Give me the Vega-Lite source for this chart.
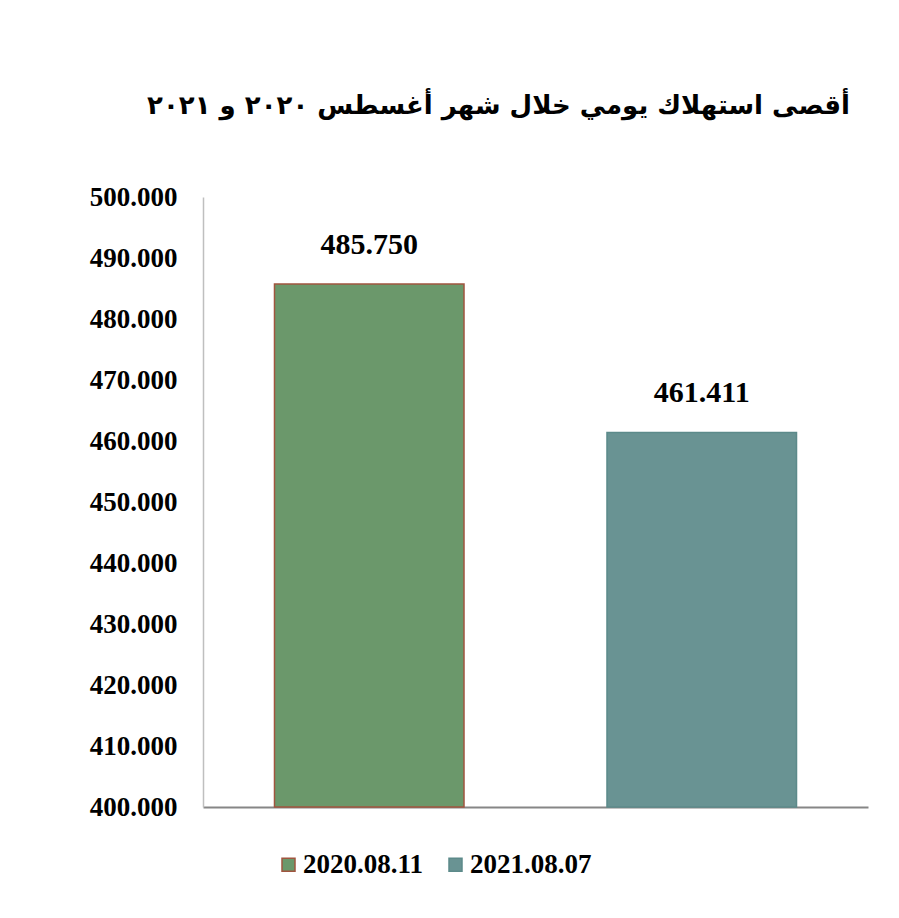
{
  "$schema": "https://vega.github.io/schema/vega-lite/v6.json",
  "autosize": {"type": "none"},
  "padding": {"left": 203, "top": 197, "right": 31, "bottom": 111},
  "width": 665,
  "height": 610,
  "background": "white",
  "title": {
    "text": "أقصى استهلاك يومي خلال شهر أغسطس ٢٠٢٠ و ٢٠٢١",
    "font": "DejaVu Sans",
    "fontSize": 26,
    "fontWeight": "bold",
    "color": "black",
    "anchor": "middle",
    "dx": -37,
    "offset": 64
  },
  "data": {
    "values": [
      {"date": "2020.08.11", "value": 485.75},
      {"date": "2021.08.07", "value": 461.411}
    ]
  },
  "layer": [
    {
      "mark": {"type": "bar", "strokeWidth": 1.5},
      "encoding": {
        "x": {
          "field": "date",
          "type": "nominal",
          "scale": {"paddingInner": 0.43, "paddingOuter": 0.215},
          "axis": {"labels": false, "ticks": false, "title": null, "domainColor": "#868686", "domainWidth": 2}
        },
        "y": {
          "field": "value",
          "type": "quantitative",
          "scale": {"domain": [400, 500], "zero": false, "nice": false},
          "axis": {
            "values": [400, 410, 420, 430, 440, 450, 460, 470, 480, 490, 500],
            "format": ".3f",
            "grid": false,
            "ticks": false,
            "title": null,
            "labelFont": "Liberation Serif",
            "labelFontSize": 27,
            "labelFontWeight": "bold",
            "labelColor": "black",
            "labelPadding": 26,
            "domainColor": "#bfbfbf",
            "domainWidth": 1.5
          }
        },
        "y2": {"datum": 400},
        "color": {
          "field": "date",
          "type": "nominal",
          "scale": {"domain": ["2020.08.11", "2021.08.07"], "range": ["#6b986b", "#699393"]},
          "legend": {
            "title": null,
            "orient": "none",
            "direction": "horizontal",
            "legendX": 72,
            "legendY": 654,
            "symbolType": "square",
            "symbolSize": 169,
            "labelFont": "Liberation Serif",
            "labelFontSize": 27,
            "labelFontWeight": "bold",
            "labelColor": "black",
            "labelOffset": 1,
            "columnPadding": 18,
            "labelLimit": 300,
            "encode": {
              "symbols": {
                "update": {
                  "stroke": {"scale": "stroke", "field": "value"},
                  "strokeWidth": {"value": 1.5}
                }
              }
            }
          }
        },
        "stroke": {
          "field": "date",
          "type": "nominal",
          "scale": {"domain": ["2020.08.11", "2021.08.07"], "range": ["#a0553f", "#5c8a8a"]},
          "legend": null
        }
      }
    },
    {
      "mark": {"type": "text", "font": "Liberation Serif", "fontSize": 30, "fontWeight": "bold", "color": "black", "baseline": "alphabetic", "dy": -30},
      "encoding": {
        "x": {"field": "date", "type": "nominal"},
        "y": {"field": "value", "type": "quantitative"},
        "text": {"field": "value", "type": "quantitative", "format": ".3f"}
      }
    }
  ],
  "config": {
    "view": {"stroke": null}
  }
}
